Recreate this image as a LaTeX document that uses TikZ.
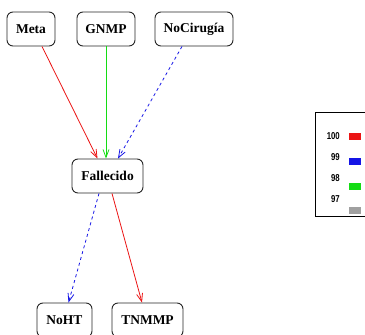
\documentclass[tikz,border=0pt]{standalone}
\usepackage{fontspec}
\setmainfont{Liberation Serif}
\newfontfamily\legfont{Liberation Sans}
\usetikzlibrary{arrows.meta}
\definecolor{ered}{RGB}{235,20,20}
\definecolor{egreen}{RGB}{20,220,20}
\definecolor{eblue}{RGB}{20,20,230}
\definecolor{egray}{RGB}{160,160,160}
\newcommand{\legnum}[1]{\scalebox{0.78}[1]{#1}}
\tikzset{
  varbox/.style={draw=black!85, line width=0.9pt, rounded corners=6pt, fill=white,
    minimum height=34pt, inner sep=0pt, font=\fontsize{13.5}{15}\selectfont\bfseries},
  edge/.style={line width=0.8pt, -{Straight Barb[length=8pt,width=6pt]}},
  legtxt/.style={anchor=east, inner sep=0pt, font=\legfont\fontsize{10}{11}\selectfont\bfseries},
}
\begin{document}
\begin{tikzpicture}[x=1pt,y=-1pt]
\useasboundingbox (0,0) rectangle (365,335);
\clip (0,0) rectangle (365,335);
\node[varbox, minimum width=48pt] (meta) at (31,29) {Meta};
\node[varbox, minimum width=58pt] (gnmp) at (106,29) {GNMP};
\node[varbox, minimum width=78pt] (nocir) at (194,29) {NoCirugía};
\node[varbox, minimum width=71pt] (fall) at (107.5,176) {Fallecido};
\node[varbox, minimum width=55pt] (noht) at (64.5,320) {NoHT};
\node[varbox, minimum width=71pt] (tnm) at (147.5,320) {TNMMP};
\draw[edge, ered] ([xshift=11pt]meta.south) -- ([xshift=-10pt]fall.north);
\draw[edge, egreen] (gnmp.south) -- (gnmp.south |- fall.north);
\draw[edge, eblue, dashed] ([xshift=-12pt]nocir.south) -- ([xshift=10.5pt]fall.north);
\draw[edge, eblue, dashed] ([xshift=-8.5pt]fall.south) -- ([xshift=4pt]noht.north);
\draw[edge, ered] ([xshift=4.5pt]fall.south) -- ([xshift=-5.5pt]tnm.north);
% legend
\node[draw=black, line width=0.7pt, minimum width=60pt, minimum height=104pt, anchor=north west, inner sep=0pt] (leg) at (315,112) {};
\node[legtxt] (l100) at (340,136) {\legnum{100}};
\node[legtxt] (l99) at (340,157) {\legnum{99}};
\node[legtxt] (l98) at (340,178) {\legnum{98}};
\node[legtxt] (l97) at (340,199) {\legnum{97}};
\fill[ered] (349,133) rectangle (361,140);
\fill[eblue] (349,158) rectangle (361,165);
\fill[egreen] (349,183) rectangle (361,190);
\fill[egray] (349,207) rectangle (361,214);
\end{tikzpicture}
\end{document}
